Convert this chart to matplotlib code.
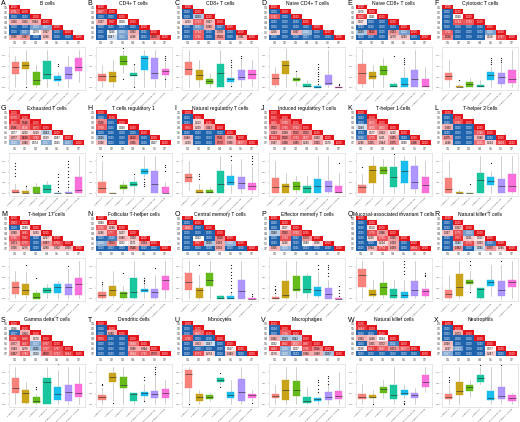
"""
Immune cell infiltration across groups: pairwise p-value triangles and boxplots
"""
import numpy as np
import matplotlib
matplotlib.use("Agg")
import matplotlib.pyplot as plt
from matplotlib.colors import LinearSegmentedColormap, TwoSlopeNorm

plt.rcParams['font.family'] = ['Liberation Sans', 'DejaVu Sans']

# Groups and colours
groups = ["G1", "G2", "G3", "G4", "G5", "G6", "G7"]
group_names = ["Subtype 1", "Subtype 2", "Subtype 3", "Subtype 4",
               "Subtype 5-mixed", "Subtype 6-mixed-low", "Subtype 7-mixed"]
box_colors = ["#F8766D", "#C49A00", "#53B400", "#00C094", "#00B6EB", "#A58AFF", "#FB61D7"]

# Pairwise p-values, lower triangle rows G2..G7 (diagonal is 1.000)
pv_A = [[0.751], [0.000, 0.000], [0.360, 0.363, 0.384], [0.000, 0.000, 0.023, 0.027],
        [0.000, 0.017, 0.078, 0.307, 0.000], [0.396, 0.467, 0.000, 0.298, 0.000, 0.000]]
pv_B = [[0.807], [0.000, 0.000], [0.327, 0.967, 0.058], [0.000, 0.000, 0.003, 0.000],
        [0.001, 0.056, 0.025, 0.363, 0.001], [0.000, 0.047, 0.021, 0.296, 0.002, 0.620]]
pv_C = [[0.000], [0.000, 0.039], [0.253, 0.703, 0.327], [0.000, 0.021, 0.390, 0.007],
        [0.000, 0.704, 0.000, 0.378, 0.000], [0.003, 0.726, 0.000, 0.504, 0.000, 0.361]]
pv_D = [[0.000], [0.742, 0.000], [0.000, 0.000, 0.000], [0.000, 0.000, 0.000, 0.000],
        [0.256, 0.000, 0.367, 0.030, 0.000], [0.000, 0.000, 0.000, 0.007, 0.000, 0.000]]
pv_E = [[0.076], [0.852, 0.061], [0.167, 0.000, 0.000], [0.000, 0.000, 0.000, 0.000],
        [0.038, 0.615, 0.000, 0.453, 0.023], [0.000, 0.000, 0.000, 0.278, 0.293, 0.000]]
pv_F = [[0.000], [0.000, 0.060], [0.000, 0.744, 0.733], [0.000, 0.000, 0.000, 0.000],
        [0.701, 0.000, 0.000, 0.000, 0.025], [0.538, 0.000, 0.000, 0.000, 0.158, 0.787]]
pv_G = [[0.771], [0.871, 0.598], [0.596, 0.658, 0.873], [0.077, 0.202, 0.219, 0.043],
        [0.377, 0.620, 0.782, 0.139, 0.087], [0.030, 0.346, 0.074, 0.027, 0.063, 0.023]]
pv_H = [[0.000], [0.526, 0.000], [0.709, 0.000, 0.060], [0.000, 0.000, 0.000, 0.000],
        [0.036, 0.000, 0.000, 0.610, 0.000], [0.306, 0.000, 0.000, 0.465, 0.000, 0.057]]
pv_I = [[0.000], [0.000, 0.213], [0.903, 0.259, 0.442], [0.000, 0.000, 0.000, 0.000],
        [0.348, 0.000, 0.000, 0.591, 0.359], [0.229, 0.000, 0.000, 0.579, 0.396, 0.677]]
pv_J = [[0.923], [0.855, 0.700], [0.563, 0.760, 0.733], [0.423, 0.409, 0.563, 0.523],
        [0.814, 0.560, 0.733, 0.677, 0.363], [0.307, 0.460, 0.465, 0.263, 0.415, 0.175]]
pv_K = [[0.000], [0.000, 0.672], [0.048, 0.625, 0.663], [0.000, 0.177, 0.333, 0.210],
        [0.010, 0.771, 0.251, 0.465, 0.000], [0.296, 0.405, 0.344, 0.475, 0.090, 0.496]]
pv_L = [[0.000], [0.000, 0.762], [0.363, 0.000, 0.000], [0.000, 0.000, 0.000, 0.740],
        [0.475, 0.000, 0.000, 0.346, 0.000], [0.296, 0.000, 0.000, 0.633, 0.224, 0.804]]
pv_M = [[0.903], [0.000, 0.090], [0.390, 0.881, 0.263], [0.726, 0.902, 0.000, 0.227],
        [0.471, 0.717, 0.000, 0.487, 0.752], [0.336, 0.276, 0.000, 0.280, 0.302, 0.309]]
pv_N = [[0.080], [0.701, 0.296], [0.296, 0.777, 0.207], [0.003, 0.010, 0.346, 0.300],
        [0.030, 0.553, 0.062, 0.171, 0.448], [0.000, 0.003, 0.000, 0.546, 0.000, 0.002]]
pv_O = [[0.000], [0.695, 0.000], [0.000, 0.000, 0.000], [0.000, 0.063, 0.000, 0.528],
        [0.000, 0.907, 0.038, 0.404, 0.030], [0.000, 0.000, 0.000, 0.404, 0.000, 0.000]]
pv_P = [[0.000], [0.000, 0.167], [0.040, 0.569, 0.700], [0.000, 0.764, 0.002, 0.478],
        [0.000, 0.226, 0.000, 0.080, 0.186], [0.356, 0.029, 0.001, 0.003, 0.000, 0.000]]
pv_Q = [[0.000], [0.000, 0.153], [0.000, 0.776, 0.466], [0.000, 0.200, 0.725, 0.435],
        [0.000, 0.000, 0.214, 0.403, 0.000], [0.000, 0.364, 0.774, 0.439, 0.000, 0.804]]
pv_R = [[0.000], [0.000, 0.327], [0.327, 0.776, 0.023], [0.000, 0.903, 0.251, 0.163],
        [0.000, 0.046, 0.776, 0.323, 0.009], [0.000, 0.482, 0.000, 0.045, 0.470, 0.246]]
pv_S = [[0.096], [0.007, 0.354], [0.796, 0.860, 0.178], [0.377, 0.827, 0.027, 0.767],
        [0.349, 0.276, 0.036, 0.707, 0.767], [0.467, 0.740, 0.050, 0.620, 0.723, 0.844]]
pv_T = [[0.000], [0.000, 0.380], [0.903, 0.000, 0.000], [0.000, 0.000, 0.000, 0.648],
        [0.000, 0.000, 0.000, 0.396, 0.364], [0.000, 0.000, 0.000, 0.644, 0.736, 0.573]]
pv_U = [[0.000], [0.000, 0.663], [0.796, 0.000, 0.000], [0.000, 0.303, 0.047, 0.000],
        [0.000, 0.006, 0.000, 0.000, 0.057], [0.000, 0.773, 0.274, 0.000, 0.349, 0.000]]
pv_V = [[0.004], [0.000, 0.726], [0.362, 0.039, 0.042], [0.062, 0.852, 0.627, 0.867],
        [0.863, 0.029, 0.107, 0.766, 0.566], [0.178, 0.029, 0.003, 0.398, 0.389, 0.037]]
pv_W = [[0.844], [0.000, 0.000], [0.363, 0.298, 0.064], [0.000, 0.355, 0.372, 0.011],
        [0.136, 0.843, 0.697, 0.473, 0.677], [0.000, 0.000, 0.000, 0.000, 0.000, 0.000]]
pv_X = [[0.000], [0.000, 0.373], [0.000, 0.000, 0.000], [0.328, 0.000, 0.000, 0.000],
        [0.267, 0.023, 0.000, 0.000, 0.077], [0.027, 0.000, 0.000, 0.000, 0.247, 0.000]]

# Box statistics per group: (whisker low, q1, median, q3, whisker high), plus outliers
box_A = [(0.01, 0.32, 0.49, 0.61, 0.76), (0.10, 0.44, 0.53, 0.60, 0.88), (0.01, 0.07, 0.18, 0.38, 0.53),
         (0.01, 0.20, 0.32, 0.63, 0.88), (0.04, 0.16, 0.21, 0.27, 0.38), (0.01, 0.20, 0.32, 0.49, 0.76),
         (0.14, 0.39, 0.49, 0.71, 0.88)]
out_A = [[], [0.01], [], [], [0.57, 0.52], [], []]
box_B = [(0.01, 0.16, 0.27, 0.32, 0.53), (0.01, 0.14, 0.27, 0.38, 0.65), (0.35, 0.53, 0.62, 0.76, 0.88),
         (0.04, 0.28, 0.31, 0.34, 0.53), (0.01, 0.43, 0.71, 0.74, 0.88), (0.01, 0.22, 0.35, 0.69, 0.88),
         (0.01, 0.30, 0.40, 0.45, 0.60)]
out_B = [[], [], [0.93, 0.20], [0.55, 0.03], [], [], [0.65, 0.70, 0.76, 0.22]]
box_C = [(0.01, 0.31, 0.44, 0.61, 0.88), (0.01, 0.18, 0.30, 0.41, 0.65), (0.01, 0.09, 0.16, 0.22, 0.34),
         (0.01, 0.03, 0.35, 0.57, 0.88), (0.10, 0.14, 0.21, 0.24, 0.45), (0.01, 0.18, 0.26, 0.41, 0.68),
         (0.04, 0.22, 0.32, 0.41, 0.65)]
out_C = [[], [], [], [], [0.66, 0.61, 0.53, 0.49, 0.04], [0.76, 0.71], []]
box_D = [(0.01, 0.07, 0.24, 0.32, 0.49), (0.01, 0.32, 0.53, 0.63, 0.92), (0.04, 0.17, 0.22, 0.24, 0.34),
         (0.01, 0.01, 0.05, 0.10, 0.18), (0.0, 0.0, 0.01, 0.04, 0.06), (0.01, 0.07, 0.12, 0.30, 0.88),
         (0.0, 0.0, 0.01, 0.03, 0.04)]
out_D = [[], [], [0.40], [], [0.57, 0.50, 0.44, 0.38, 0.32, 0.27, 0.21, 0.15, 0.09], [0.95], [0.10, 0.07]]
box_E = [(0.01, 0.10, 0.34, 0.57, 0.92), (0.01, 0.22, 0.29, 0.38, 0.53), (0.01, 0.30, 0.43, 0.52, 0.69),
         (0.01, 0.01, 0.05, 0.09, 0.14), (0.01, 0.01, 0.09, 0.24, 0.50), (0.01, 0.01, 0.22, 0.41, 0.88),
         (0.01, 0.01, 0.04, 0.20, 0.49)]
out_E = [[], [], [], [0.76], [0.69, 0.65, 0.61, 0.57], [], []]
box_F = [(0.01, 0.18, 0.29, 0.35, 0.65), (0.01, 0.01, 0.03, 0.04, 0.10), (0.01, 0.03, 0.09, 0.14, 0.24),
         (0.01, 0.01, 0.04, 0.07, 0.18), (0.01, 0.18, 0.31, 0.38, 0.50), (0.01, 0.09, 0.26, 0.35, 0.55),
         (0.01, 0.12, 0.22, 0.41, 0.88)]
out_F = [[], [0.18], [], [], [0.71, 0.65, 0.61, 0.57], [0.71, 0.65, 0.60], []]
box_G = [(0.0, 0.0, 0.03, 0.07, 0.22), (0.0, 0.0, 0.02, 0.05, 0.14), (0.0, 0.0, 0.01, 0.14, 0.24),
         (0.0, 0.0, 0.10, 0.20, 0.30), (0.0, 0.0, 0.0, 0.01, 0.02), (0.0, 0.0, 0.02, 0.04, 0.10),
         (0.0, 0.0, 0.07, 0.38, 0.88)]
out_G = [[0.72, 0.65, 0.57, 0.49, 0.40], [0.18], [], [], [0.45, 0.38, 0.30, 0.22, 0.14, 0.06],
         [0.76, 0.69, 0.61, 0.53, 0.45, 0.38, 0.30, 0.22, 0.15], []]
box_H = [(0.0, 0.0, 0.12, 0.27, 0.76), (0.0, 0.0, 0.0, 0.01, 0.01), (0.0, 0.10, 0.14, 0.20, 0.30),
         (0.0, 0.17, 0.22, 0.26, 0.41), (0.38, 0.45, 0.53, 0.57, 0.88), (0.0, 0.0, 0.22, 0.53, 0.88),
         (0.0, 0.0, 0.01, 0.14, 0.27)]
out_H = [[0.88], [], [], [0.45], [0.34, 0.27, 0.22, 0.18], [], [0.66, 0.61, 0.53]]
box_I = [(0.07, 0.26, 0.38, 0.45, 0.76), (0.0, 0.0, 0.04, 0.09, 0.22), (0.0, 0.0, 0.03, 0.07, 0.14),
         (0.0, 0.0, 0.22, 0.53, 0.88), (0.01, 0.20, 0.27, 0.41, 0.70), (0.01, 0.10, 0.24, 0.38, 0.80),
         (0.01, 0.09, 0.18, 0.24, 0.62)]
out_I = [[], [0.45, 0.40, 0.34], [], [], [0.88, 0.78], [], [0.88, 0.82, 0.76, 0.69]]
box_J = [(0.0, 0.01, 0.14, 0.35, 0.76), (0.0, 0.01, 0.17, 0.22, 0.49), (0.0, 0.07, 0.18, 0.26, 0.41),
         (0.0, 0.0, 0.13, 0.17, 0.41), (0.0, 0.01, 0.18, 0.34, 0.88), (0.0, 0.04, 0.18, 0.30, 0.88),
         (0.0, 0.0, 0.04, 0.18, 0.49)]
out_J = [[], [], [], [], [], [], [0.71]]
box_K = [(0.0, 0.0, 0.14, 0.20, 0.45), (0.0, 0.24, 0.55, 0.65, 0.88), (0.01, 0.45, 0.55, 0.62, 0.80),
         (0.0, 0.14, 0.38, 0.61, 0.88), (0.0, 0.24, 0.53, 0.76, 0.88), (0.0, 0.10, 0.26, 0.65, 0.88),
         (0.0, 0.0, 0.20, 0.38, 0.76)]
out_K = [[0.63], [], [], [0.92], [], [], []]
box_L = [(0.0, 0.01, 0.10, 0.35, 0.76), (0.0, 0.0, 0.01, 0.03, 0.07), (0.0, 0.0, 0.0, 0.0, 0.0),
         (0.0, 0.01, 0.32, 0.48, 0.88), (0.01, 0.20, 0.30, 0.38, 0.53), (0.0, 0.01, 0.17, 0.34, 0.88),
         (0.0, 0.03, 0.17, 0.45, 0.88)]
out_L = [[], [], [0.22], [], [0.71], [], []]
box_M = [(0.01, 0.12, 0.28, 0.40, 0.65), (0.01, 0.10, 0.22, 0.35, 0.62), (0.0, 0.0, 0.05, 0.14, 0.22),
         (0.01, 0.14, 0.21, 0.26, 0.34), (0.01, 0.14, 0.27, 0.35, 0.41), (0.01, 0.10, 0.27, 0.35, 0.69),
         (0.01, 0.09, 0.34, 0.49, 0.88)]
out_M = [[], [0.80], [0.49], [], [], [0.78], []]
box_N = [(0.0, 0.01, 0.08, 0.17, 0.35), (0.01, 0.07, 0.21, 0.30, 0.65), (0.0, 0.01, 0.14, 0.16, 0.30),
         (0.0, 0.01, 0.16, 0.49, 0.88), (0.01, 0.16, 0.21, 0.24, 0.34), (0.0, 0.01, 0.16, 0.24, 0.57),
         (0.01, 0.22, 0.45, 0.53, 0.88)]
out_N = [[0.40, 0.34], [], [0.61], [], [0.49, 0.45, 0.41, 0.37], [0.72], []]
box_O = [(0.01, 0.20, 0.39, 0.61, 0.88), (0.0, 0.01, 0.20, 0.26, 0.57), (0.01, 0.30, 0.45, 0.61, 0.88),
         (0.0, 0.0, 0.03, 0.07, 0.10), (0.0, 0.0, 0.03, 0.07, 0.14), (0.0, 0.0, 0.18, 0.45, 0.88),
         (0.0, 0.0, 0.0, 0.01, 0.02)]
out_O = [[], [0.80], [], [], [0.80, 0.72, 0.64, 0.56, 0.49, 0.41, 0.33, 0.25, 0.17], [], [0.12, 0.07]]
box_P = [(0.0, 0.0, 0.02, 0.04, 0.10), (0.0, 0.01, 0.10, 0.41, 0.88), (0.01, 0.18, 0.24, 0.53, 0.88),
         (0.01, 0.14, 0.24, 0.53, 0.61), (0.01, 0.07, 0.22, 0.27, 0.62), (0.0, 0.0, 0.12, 0.26, 0.45),
         (0.0, 0.0, 0.0, 0.01, 0.02)]
out_P = [[0.30, 0.24, 0.20, 0.14], [], [], [], [0.80, 0.69], [0.80, 0.74, 0.69, 0.61, 0.53],
         [0.30, 0.22, 0.14, 0.07]]
box_Q = [(0.01, 0.27, 0.57, 0.69, 0.88), (0.01, 0.07, 0.12, 0.20, 0.45), (0.01, 0.10, 0.27, 0.38, 0.88),
         (0.0, 0.01, 0.08, 0.24, 0.45), (0.0, 0.01, 0.09, 0.16, 0.45), (0.01, 0.07, 0.20, 0.41, 0.88),
         (0.01, 0.07, 0.18, 0.24, 0.45)]
out_Q = [[], [], [], [], [0.88, 0.82, 0.74, 0.66, 0.58], [], [0.61, 0.57, 0.53]]
box_R = [(0.0, 0.01, 0.12, 0.22, 0.57), (0.01, 0.07, 0.27, 0.59, 0.88), (0.20, 0.35, 0.40, 0.45, 0.65),
         (0.0, 0.01, 0.24, 0.26, 0.26), (0.07, 0.30, 0.40, 0.45, 0.80), (0.0, 0.07, 0.22, 0.41, 0.80),
         (0.01, 0.27, 0.40, 0.45, 0.88)]
out_R = [[], [], [0.88, 0.80, 0.17], [], [], [0.88], []]
box_S = [(0.01, 0.26, 0.38, 0.61, 0.88), (0.01, 0.03, 0.27, 0.34, 0.53), (0.01, 0.04, 0.09, 0.17, 0.24),
         (0.0, 0.01, 0.53, 0.61, 0.88), (0.01, 0.10, 0.24, 0.41, 0.80), (0.01, 0.07, 0.30, 0.45, 0.88),
         (0.01, 0.17, 0.27, 0.48, 0.88)]
out_S = [[], [], [0.41, 0.35], [], [0.94], [], []]
box_T = [(0.01, 0.10, 0.17, 0.22, 0.38), (0.07, 0.53, 0.65, 0.74, 0.88), (0.01, 0.38, 0.45, 0.65, 0.88),
         (0.01, 0.07, 0.24, 0.26, 0.26), (0.10, 0.20, 0.26, 0.30, 0.49), (0.01, 0.14, 0.24, 0.32, 0.69),
         (0.01, 0.14, 0.27, 0.35, 0.57)]
out_T = [[0.49, 0.45], [0.03], [], [], [0.65, 0.57, 0.07], [0.88, 0.82, 0.76, 0.72], []]
box_U = [(0.05, 0.38, 0.71, 0.80, 0.88), (0.01, 0.09, 0.18, 0.24, 0.34), (0.07, 0.12, 0.18, 0.22, 0.26),
         (0.49, 0.53, 0.57, 0.61, 0.65), (0.01, 0.14, 0.22, 0.30, 0.57), (0.01, 0.07, 0.30, 0.59, 0.88),
         (0.07, 0.16, 0.21, 0.24, 0.34)]
out_U = [[0.0], [], [], [0.74, 0.41], [], [], [0.04]]
box_V = [(0.01, 0.14, 0.20, 0.24, 0.45), (0.01, 0.10, 0.34, 0.57, 0.88), (0.01, 0.20, 0.34, 0.55, 0.88),
         (0.01, 0.04, 0.09, 0.17, 0.41), (0.01, 0.07, 0.12, 0.16, 0.18), (0.01, 0.10, 0.18, 0.30, 0.45),
         (0.01, 0.12, 0.20, 0.32, 0.76)]
out_V = [[], [], [], [], [0.57, 0.52, 0.45, 0.37, 0.30], [0.66, 0.61, 0.55, 0.49], []]
box_W = [(0.01, 0.12, 0.18, 0.24, 0.49), (0.04, 0.14, 0.18, 0.22, 0.34), (0.14, 0.27, 0.35, 0.41, 0.57),
         (0.01, 0.12, 0.22, 0.45, 0.88), (0.14, 0.22, 0.27, 0.34, 0.45), (0.01, 0.14, 0.22, 0.27, 0.38),
         (0.30, 0.41, 0.53, 0.69, 0.88)]
out_W = [[], [0.01], [], [], [0.09, 0.04, 0.01], [], []]
box_X = [(0.01, 0.12, 0.18, 0.24, 0.45), (0.01, 0.22, 0.32, 0.53, 0.88), (0.18, 0.32, 0.40, 0.45, 0.57),
         (0.49, 0.53, 0.61, 0.69, 0.88), (0.01, 0.10, 0.14, 0.32, 0.88), (0.01, 0.12, 0.20, 0.41, 0.88),
         (0.01, 0.07, 0.14, 0.22, 0.26)]
out_X = [[0.65, 0.58, 0.53], [], [], [0.92], [], [0.92], []]

panels = [
    ("A", "B cells", pv_A, box_A, out_A),
    ("B", "CD4+ T cells", pv_B, box_B, out_B),
    ("C", "CD8+ T cells", pv_C, box_C, out_C),
    ("D", "Naive CD4+ T cells", pv_D, box_D, out_D),
    ("E", "Naive CD8+ T cells", pv_E, box_E, out_E),
    ("F", "Cytotoxic T cells", pv_F, box_F, out_F),
    ("G", "Exhausted T cells", pv_G, box_G, out_G),
    ("H", "T cells regulatory 1", pv_H, box_H, out_H),
    ("I", "Natural regulatory T cells", pv_I, box_I, out_I),
    ("J", "Induced regulatory T cells", pv_J, box_J, out_J),
    ("K", "T-helper 1 cells", pv_K, box_K, out_K),
    ("L", "T-helper 2 cells", pv_L, box_L, out_L),
    ("M", "T-helper 17 cells", pv_M, box_M, out_M),
    ("N", "Follicular T-helper cells", pv_N, box_N, out_N),
    ("O", "Central memory T cells", pv_O, box_O, out_O),
    ("P", "Effector memory T cells", pv_P, box_P, out_P),
    ("Q", "Mucosal-associated invariant T cells", pv_Q, box_Q, out_Q),
    ("R", "Natural killer T cells", pv_R, box_R, out_R),
    ("S", "Gamma delta T cells", pv_S, box_S, out_S),
    ("T", "Dendritic cells", pv_T, box_T, out_T),
    ("U", "Monocytes", pv_U, box_U, out_U),
    ("V", "Macrophages", pv_V, box_V, out_V),
    ("W", "Natural killer cells", pv_W, box_W, out_W),
    ("X", "Neutrophils", pv_X, box_X, out_X),
]

# Colour scale: blue (small p) -> white -> red (p near 1)
cmap = LinearSegmentedColormap.from_list("pval", ["#1F63AD", "#FFFFFF", "#E3151B"])
cmap.set_bad('white')
norm = TwoSlopeNorm(vmin=0.0, vcenter=0.06, vmax=1.0)

W, H = 520, 422
col_w = W / 6.0
row_h = 105.5
fig = plt.figure(figsize=(W / 100, H / 100), dpi=100)

for k, (letter, title, pv, box, out) in enumerate(panels):
    r, c = divmod(k, 6)
    x0 = c * col_w
    y0 = r * row_h

    fig.text((x0 + 1) / W, 1 - (y0 + 3.5) / H, letter, fontsize=5, ha='left', va='center')
    fig.text((x0 + 47) / W, 1 - (y0 + 3.2) / H, title, fontsize=3.6, ha='center', va='center')

    # triangle heatmap
    mat = np.full((7, 7), np.nan)
    for i in range(7):
        mat[i, i] = 1.0
    for i, row in enumerate(pv):
        mat[i + 1, :len(row)] = row
    axh = fig.add_axes([(x0 + 9) / W, 1 - (y0 + 40) / H, 75 / W, 35.5 / H])
    axh.imshow(np.ma.masked_invalid(mat), cmap=cmap, norm=norm, aspect='auto',
               interpolation='nearest', extent=(0, 7, 7, 0))
    for i in range(7):
        for j in range(i + 1):
            v = mat[i, j]
            t = norm(v)
            tc = 'white' if (t < 0.3 or t > 0.8) else 'black'
            axh.text(j + 0.5, i + 0.5, "%.3f" % v, fontsize=1.9, color=tc,
                     ha='center', va='center')
    axh.set_xlim(0, 7)
    axh.set_ylim(7, 0)
    axh.set_xticks(np.arange(7) + 0.5)
    axh.set_xticklabels(groups, fontsize=2.2, color='#444444')
    axh.set_yticks(np.arange(7) + 0.5)
    axh.set_yticklabels(groups, fontsize=2.2, color='#444444')
    axh.tick_params(length=0, pad=0.8)
    for s in axh.spines.values():
        s.set_visible(False)

    # boxplot
    axb = fig.add_axes([(x0 + 9) / W, 1 - (y0 + 90) / H, 76 / W, 43 / H])
    stats = []
    for g in range(7):
        lo, q1, med, q3, hi = box[g]
        stats.append(dict(whislo=lo, q1=q1, med=med, q3=q3, whishi=hi, fliers=out[g]))
    bp = axb.bxp(stats, positions=np.arange(1, 8), widths=0.68, patch_artist=True,
                 showfliers=True, showcaps=False,
                 boxprops=dict(linewidth=0.3),
                 medianprops=dict(color='#333333', linewidth=0.45),
                 whiskerprops=dict(color='#AAAAAA', linewidth=0.4),
                 flierprops=dict(marker='o', markersize=0.9, markerfacecolor='#222222',
                                 markeredgecolor='none'))
    for patch, col in zip(bp['boxes'], box_colors):
        patch.set_facecolor(col)
        patch.set_alpha(0.9)
        patch.set_edgecolor(col)
    axb.set_xlim(0.4, 7.6)
    axb.set_ylim(-0.05, 0.96)
    axb.set_yticks([0, 0.25, 0.5, 0.75])
    axb.set_yticklabels(["0.00", "0.25", "0.50", "0.75"], fontsize=1.6, color='#666666')
    axb.set_xticks(np.arange(1, 8))
    axb.set_xticklabels(group_names, fontsize=1.7, rotation=45, ha='right',
                        rotation_mode='anchor', color='#444444')
    axb.tick_params(length=0.8, width=0.3, pad=0.8, color='#999999')
    for s in axb.spines.values():
        s.set_color('#D5D5D5')
        s.set_linewidth(0.4)

fig.savefig("out.png", dpi=100, facecolor='white')
